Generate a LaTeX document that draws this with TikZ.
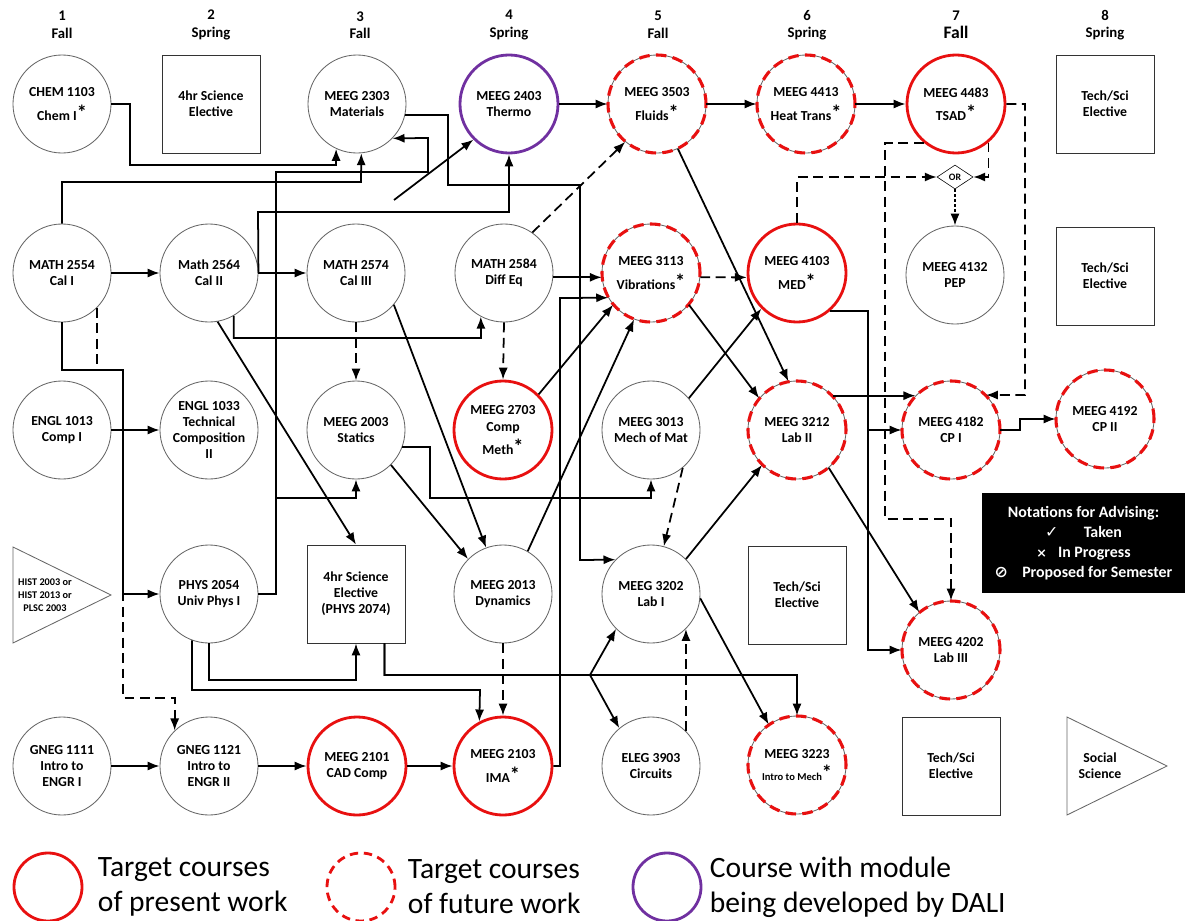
\documentclass[tikz,border=0pt]{standalone}
\usepackage{fontspec}
\setmainfont{Carlito}
\newfontfamily\checkfont{DejaVu Sans}
\usepackage{tikz}
\usetikzlibrary{shapes.geometric, calc, arrows.meta}

\definecolor{tgtred}{RGB}{232,16,16}
\definecolor{daliviolet}{RGB}{112,48,160}
\newcommand{\crit}{\raisebox{0.1ex}{\Large *}}

\begin{document}
\begin{tikzpicture}[x=0.025cm, y=-0.025cm, >={Latex[length=8.5pt,width=6.5pt]},
    course/.style={circle, draw=black!60, line width=0.6pt, fill=white, minimum size=2.45cm,
        inner sep=0pt, align=center, font=\fontsize{9.8}{11.5}\selectfont\bfseries},
    present/.style={course, draw=tgtred, line width=2pt},
    future/.style={course, postaction={draw=tgtred, line width=2.2pt, dash pattern=on 7.5pt off 4.5pt}},
    dali/.style={course, draw=daliviolet, line width=2pt},
    elective/.style={course, rectangle, draw=black!80},
    semhead/.style={align=center, font=\fontsize{10.5}{12.5}\selectfont\bfseries},
    prereq/.style={->, line width=1.25pt},
    coreq/.style={prereq, dash pattern=on 7pt off 4pt},
    legendring/.style={circle, minimum size=1.7cm, line width=2pt},
    legendtext/.style={anchor=west, align=left, font=\fontsize{21}{25}\selectfont}]
    \useasboundingbox (0,0) rectangle (1185,921);

    % Semesters
    \foreach \n/\s/\x in {1/Fall/62, 2/Spring/211, 3/Fall/360, 4/Spring/509,
        5/Fall/658, 6/Spring/807, 8/Spring/1105}
        \node[semhead] (hd\n) at (\x,25) {\n\\\s};
    \node[semhead] (hd7) at (956,25) {7\\{\fontsize{12.5}{12.5}\selectfont Fall}};

    % Row 1
    \node[course] (chem) at (62,104) {CHEM 1103\\[5pt]Chem I\crit};
    \node[elective] (scia) at (211,104) {4hr Science\\Elective};
    \node[course] (mat) at (357,104) {MEEG 2303\\Materials};
    \node[dali] (thermo) at (509,104) {MEEG 2403\\Thermo};
    \node[future] (fluids) at (657,104) {MEEG 3503\\[5pt]Fluids\crit};
    \node[future] (heat) at (806,104) {MEEG 4413\\[5pt]Heat Trans\crit};
    \node[present] (tsad) at (956,104) {MEEG 4483\\[5pt]TSAD\crit};
    \node[elective] (techa) at (1105,104) {Tech/Sci\\Elective};

    % Row 2
    \node[course] (calone) at (62,273) {MATH 2554\\Cal I};
    \node[course] (caltwo) at (209,273) {Math 2564\\Cal II};
    \node[course] (calthree) at (356,273) {MATH 2574\\Cal III};
    \node[course] (diffeq) at (504,273) {MATH 2584\\Diff Eq};
    \node[future] (vib) at (651,273) {MEEG 3113\\[5pt]Vibrations\crit};
    \node[present] (med) at (797,273) {MEEG 4103\\[5pt]MED\crit};
    \node[course] (pep) at (955,275) {MEEG 4132\\PEP};
    \node[elective] (techb) at (1105,276) {Tech/Sci\\Elective};
    \node[diamond, draw, aspect=1.5, fill=white, minimum width=0.9cm, minimum height=0.6cm,
        inner sep=0pt, font=\fontsize{7}{8}\selectfont\bfseries] (orgate) at (955,177) {OR};

    % Row 3
    \node[course] (englone) at (62,430) {ENGL 1013\\Comp I};
    \node[course] (engltwo) at (209,430) {ENGL 1033\\Technical\\Composition\\II};
    \node[course] (statics) at (356,430) {MEEG 2003\\Statics};
    \node[present] (compmeth) at (503,430) {MEEG 2703\\Comp\\[3pt]Meth\crit};
    \node[course] (mechmat) at (651,430) {MEEG 3013\\Mech of Mat};
    \node[future] (labtwo) at (797,430) {MEEG 3212\\Lab II};
    \node[future] (cpone) at (951,430) {MEEG 4182\\CP I};
    \node[future] (cptwo) at (1105,419) {MEEG 4192\\CP II};

    % Row 4
    \node[align=center, font=\fontsize{7.3}{9.3}\selectfont\bfseries] (hist) at (45,595)
        {HIST 2003 or\\HIST 2013 or\\PLSC 2003};
    \draw[black!60, line width=0.6pt] (13,547) -- (111,595) -- (13,643) -- cycle;
    \node[course] (phys) at (209,594) {PHYS 2054\\Univ Phys I};
    \node[elective] (scib) at (356,594) {4hr Science\\Elective\\(PHYS 2074)};
    \node[course] (dyn) at (503,594) {MEEG 2013\\Dynamics};
    \node[course] (labone) at (651,594) {MEEG 3202\\Lab I};
    \node[elective] (techc) at (797,595) {Tech/Sci\\Elective};
    \node[future] (labthree) at (951,650) {MEEG 4202\\Lab III};
    \node[fill=black, text=white, minimum width=5.075cm, minimum height=2.5cm, align=center,
        font=\fontsize{11.3}{14.2}\selectfont\bfseries] (notes) at (1083.5,543)
        {Notations for Advising:\\{\checkfont\mdseries ✓}\hspace{1.6em}Taken\\
         {\checkfont\small ×}\hspace{0.7em}In Progress\\
         {\checkfont ⊘}\hspace{0.9em}Proposed for Semester};

    % Row 5
    \node[course] (gnegone) at (62,766) {GNEG 1111\\Intro to\\ENGR I};
    \node[course] (gnegtwo) at (209,766) {GNEG 1121\\Intro to\\ENGR II};
    \node[present] (cad) at (357,766) {MEEG 2101\\CAD Comp};
    \node[present] (ima) at (503,766) {MEEG 2103\\[5pt]IMA\crit};
    \node[course] (circ) at (651,766) {ELEG 3903\\Circuits};
    \node[future] (intromech) at (797,765) {MEEG 3223\\[4pt]{\fontsize{7.5}{9}\selectfont Intro to Mech}\crit};
    \node[elective] (techd) at (951,766) {Tech/Sci\\Elective};
    \node[align=center, font=\fontsize{9.8}{11.5}\selectfont\bfseries] (social) at (1100,766) {Social\\Science};
    \draw[black!60, line width=0.6pt] (1067,717) -- (1167,766) -- (1067,815) -- cycle;

    % Prerequisites (solid)
    \coordinate (loose) at (394,200);
    \draw[prereq] (chem.east) -| (130,165) -| (mat.-115);
    \draw[prereq] (calone.north) |- (361,182) -- (mat.-85);
    \draw[prereq] (phys.east) -| (276,172) -| (428,138) -- (mat.-44);
    \draw[prereq] (phys.east) -| (276,498) -| (statics.south);
    \draw[prereq] (calone.east) -- (caltwo.west);
    \draw[prereq] (caltwo.east) -- (calthree.west);
    \draw[prereq] (caltwo.east) -- (258,212) -| (thermo.south);
    \draw[prereq] (caltwo.-60) |- (481,338) -- (diffeq.-118);
    \draw[prereq] (caltwo.-80) -- (scib.north);
    \draw[prereq] (calthree.-40) -- (dyn.110);
    \draw[prereq] (statics.-45) -- (dyn.135);
    \draw[prereq] (statics.-20) -| (430,498) -| (mechmat.south);
    \draw[prereq] (diffeq.-5) -- (vib.185);
    \draw[prereq] (thermo.east) -- (fluids.west);
    \draw[prereq] (fluids.east) -- (heat.west);
    \draw[prereq] (heat.east) -- (tsad.west);
    \draw[prereq] (loose) -- (thermo.-135);
    \draw[prereq] (compmeth.45) -- (vib.-140);
    \draw[prereq] (dyn.60) -- (vib.-110);
    \draw[prereq] (ima.east) -| (560,298) -- (vib.-150);
    \draw[prereq] (mat.-13) -| (448,185) -| (580,560) -- (labone.136);
    \draw[prereq] (vib.-40) -- (labtwo.140);
    \draw[prereq] (fluids.-65) -- (labtwo.100);
    \draw[prereq] (mechmat.40) -- (med.-135);
    \draw[prereq] (labone.45) -- (labtwo.-135);
    \draw[prereq] (labone.-5) -- (intromech.125);
    \draw[prereq] (scib.-60) |- (590,675) -- (labone.-135);
    \draw[prereq] (scib.-60) |- (590,675) -- (circ.130);
    \draw[prereq] (scib.-60) |- (797,675) -- (intromech.north);
    \draw[prereq] (phys.south) |- (356,680) -- (scib.south);
    \draw[prereq] (phys.-110) |- (480,690) -- (ima.118);
    \draw[prereq] (calone.south) |- (123,370) |- (phys.west);
    \draw[prereq] (englone.east) -- (engltwo.west);
    \draw[prereq] (gnegone.east) -- (gnegtwo.west);
    \draw[prereq] (gnegtwo.east) -- (cad.west);
    \draw[prereq] (cad.east) -- (ima.west);
    \draw[prereq] (med.-49) -| (868,430) -- (cpone.west);
    \draw[prereq] (med.-49) -| (868,650) -- (labthree.west);
    \draw[prereq] (labtwo.44) -- (cpone.136);
    \draw[prereq] (labtwo.-50) -- (labthree.130);
    \draw[prereq] (cpone.east) -| (1020,419) -- (cptwo.west);

    % Corequisites (dashed)
    \draw[coreq] (calone.-45) |- (123,370) -- (123,698) -| (gnegtwo.134);
    \draw[coreq] (calthree.south) -- (statics.north);
    \draw[coreq] (diffeq.south) -- (compmeth.north);
    \draw[coreq] (diffeq.55) -- (fluids.-130);
    \draw[coreq] (vib.-5) -- (med.185);
    \draw[coreq] (mechmat.-50) -- (labone.75);
    \draw[coreq] (circ.45) -- (labone.-45);
    \draw[coreq] (dyn.south) -- (ima.north);
    \draw[coreq] (tsad.east) -| (1025,395) -- (cpone.45);
    \draw[coreq] (tsad.-50) |- (orgate.east);
    \draw[coreq] (tsad.-130) -| (885,519) -| (labthree.north);
    \draw[coreq] (med.north) |- (orgate.west);
    \draw[prereq, dash pattern=on 2pt off 1.5pt] (orgate.south) -- (pep.north);

    % Legend
    \node[legendring, draw=tgtred] (keyred) at (48,887) {};
    \node[legendtext] (keyredtext) at (93,887) {Target courses\\of present work};
    \node[legendring, draw=tgtred, dash pattern=on 6pt off 4pt] (keydash) at (361,887) {};
    \node[legendtext] (keydashtext) at (403,887) {Target courses\\of future work};
    \node[legendring, draw=daliviolet] (keydali) at (667,887) {};
    \node[legendtext] (keydalitext) at (705,887) {Course with module\\being developed by DALI};
\end{tikzpicture}
\end{document}
